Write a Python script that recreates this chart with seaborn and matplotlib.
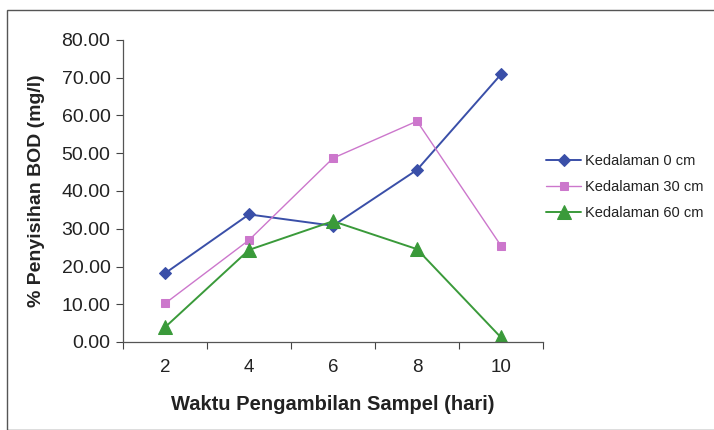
import matplotlib
matplotlib.use("Agg")
import matplotlib.pyplot as plt
import seaborn as sns
import pandas as pd
from matplotlib.patches import Rectangle
from matplotlib.ticker import FixedLocator, NullFormatter, FixedFormatter

days = ["2", "4", "6", "8", "10"]
depth0 = [18.2, 33.8, 30.8, 45.6, 70.9]
depth30 = [10.2, 27.0, 48.7, 58.5, 25.5]
depth60 = [3.9, 24.4, 32.0, 24.6, 1.2]
series_names = ["Kedalaman 0 cm", "Kedalaman 30 cm", "Kedalaman 60 cm"]
yticks = [0, 10, 20, 30, 40, 50, 60, 70, 80]

sns.set_theme(style="white")
plt.rcParams['font.family'] = ['Liberation Sans', 'DejaVu Sans']

fig = plt.figure(figsize=(7.14, 4.30), dpi=100)
fig.patch.set_facecolor("white")
fig.patches.append(Rectangle((7/714, 0.0), 1.0, 1 - 10/430, transform=fig.transFigure,
                             fill=False, edgecolor="#555555", linewidth=1.0))

ax = fig.add_axes([123/714, 1 - 342/430, 420/714, 302/430])
ax.set_facecolor("white")

colors = ["#3A4FA8", "#CC77CC", "#3A9A3A"]
markers = ["D", "s", "^"]
msizes = [6, 6, 10]
lws = [1.4, 1.0, 1.4]
xpos = list(range(len(days)))
for vals, name, c, m, ms, lw in zip([depth0, depth30, depth60], series_names, colors, markers, msizes, lws):
    df = pd.DataFrame({"x": xpos, "y": vals})
    sns.lineplot(data=df, x="x", y="y", ax=ax, color=c, marker=m, markersize=ms,
                 markeredgecolor=c, linewidth=lw, label=name)

ax.set_xlim(-0.5, len(days) - 0.5)
ax.set_ylim(0, 80)
ax.set_yticks(yticks)
ax.set_yticklabels([f"{v:.2f}" for v in yticks], fontsize=14)
ax.xaxis.set_major_locator(FixedLocator([i - 0.5 for i in range(len(days) + 1)]))
ax.xaxis.set_major_formatter(NullFormatter())
ax.xaxis.set_minor_locator(FixedLocator(xpos))
ax.xaxis.set_minor_formatter(FixedFormatter(days))
ax.tick_params(axis="x", which="major", direction="out", length=5, width=0.8, colors="#444444")
ax.tick_params(axis="x", which="minor", length=0, pad=12, labelsize=13.5, labelcolor="#222222")
ax.tick_params(axis="y", direction="out", length=5, width=0.8, colors="#444444",
               labelcolor="#222222", pad=4)
ax.tick_params(bottom=True, left=True, which="both")

for s in ["top", "right"]:
    ax.spines[s].set_visible(False)
for s in ["left", "bottom"]:
    ax.spines[s].set_color("#555555")
    ax.spines[s].set_linewidth(0.9)

ax.set_xlabel("Waktu Pengambilan Sampel (hari)", fontsize=14.5, fontweight="bold",
              color="#222222", labelpad=14)
ax.set_ylabel("% Penyisihan BOD (mg/l)", fontsize=14, fontweight="bold",
              color="#222222", labelpad=12)

leg = ax.legend(loc="center left", bbox_to_anchor=(546/714, 1 - 187/430),
                bbox_transform=fig.transFigure, frameon=False, fontsize=10.5,
                handlelength=2.4, handletextpad=0.3, labelspacing=0.85,
                borderpad=0, borderaxespad=0)
for t in leg.get_texts():
    t.set_color("#222222")

fig.savefig("out.png", dpi=100, facecolor="white")
